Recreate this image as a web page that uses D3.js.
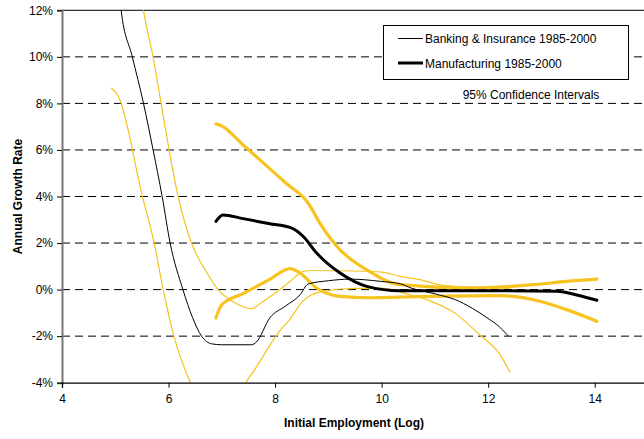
<!DOCTYPE html>
<html>
<head>
<meta charset="utf-8">
<script src="https://cdn.jsdelivr.net/npm/d3@7/dist/d3.min.js"></script>
<style>
  html, body { margin: 0; padding: 0; background: #fff; }
  svg { display: block; font-family: "Liberation Sans", Arial, sans-serif; }
</style>
</head>
<body>
<svg id="chart" width="644" height="439"></svg>
<script>
// ---- Data (x = log initial employment, y = annual growth rate in %) ----
const xTicks = [4, 6, 8, 10, 12, 14];
const yTicks = [-4, -2, 0, 2, 4, 6, 8, 10, 12];

const bankingX = [5.08, 5.11, 5.32, 5.53, 5.71, 5.88, 6.03, 6.27, 6.45, 6.62, 6.81, 7.0, 7.56, 7.65, 7.9, 8.2, 8.47, 8.62, 9.0, 9.41, 10.0, 10.35, 10.55, 11.03, 11.38, 11.7, 12.03, 12.16, 12.38];
const bankingY = [12.6, 12.0, 10.0, 8.0, 6.0, 4.0, 2.0, 0.0, -1.2, -2.0, -2.33, -2.37, -2.37, -2.25, -1.22, -0.7, -0.22, 0.24, 0.38, 0.45, 0.35, 0.25, 0.07, -0.2, -0.43, -0.8, -1.29, -1.5, -2.0];

const bankingUpperX = [5.5, 5.53, 5.71, 5.86, 6.01, 6.18, 6.43, 6.7, 6.93, 7.2, 7.56, 7.72, 8.0, 8.28, 8.53, 8.7, 9.5, 10.0, 10.35, 10.72, 11.1, 11.6, 12.0, 12.4];
const bankingUpperY = [12.5, 12.0, 10.0, 8.0, 6.0, 4.0, 2.0, 0.8, 0.0, -0.5, -0.82, -0.6, -0.15, 0.35, 0.78, 0.82, 0.8, 0.75, 0.57, 0.43, 0.2, 0.1, 0.08, 0.05];

const bankingLowerX = [4.93, 5.06, 5.51, 5.73, 5.9, 6.1, 6.41, 6.7, 7.0, 7.3, 7.45, 7.6, 8.06, 8.3, 8.5, 8.85, 9.5, 10.0, 10.5, 10.87, 11.37, 11.84, 12.2, 12.41];
const bankingLowerY = [8.65, 8.3, 4.0, 2.0, 0.0, -2.0, -4.0, -5.3, -5.8, -4.9, -4.0, -3.5, -1.86, -1.2, -0.55, -0.1, 0.05, 0.05, -0.2, -0.45, -1.0, -1.94, -2.72, -3.55];

const manufX = [6.89, 7.02, 7.4, 7.9, 8.28, 8.53, 8.78, 9.22, 9.72, 10.35, 11.0, 12.0, 13.28, 13.7, 14.04];
const manufY = [2.93, 3.21, 3.05, 2.83, 2.67, 2.28, 1.57, 0.71, 0.14, -0.05, -0.05, -0.05, -0.07, -0.25, -0.46];

const manufUpperX = [6.89, 7.0, 7.4, 7.8, 8.2, 8.62, 8.84, 9.22, 9.72, 10.35, 11.6, 12.85, 13.47, 14.04];
const manufUpperY = [7.12, 7.03, 6.21, 5.4, 4.58, 3.72, 2.86, 1.71, 0.85, 0.21, 0.07, 0.21, 0.35, 0.45];

const manufLowerX = [6.89, 7.0, 7.4, 7.9, 8.28, 8.47, 8.78, 9.22, 9.78, 10.35, 12.22, 12.97, 13.47, 14.04];
const manufLowerY = [-1.22, -0.65, -0.17, 0.44, 0.9, 0.71, 0.07, -0.29, -0.35, -0.32, -0.26, -0.5, -0.86, -1.36];

const legendLabels = ["Banking & Insurance 1985-2000", "Manufacturing 1985-2000"];
const ciLabel = "95% Confidence Intervals";
const xTitle = "Initial Employment (Log)";
const yTitle = "Annual Growth Rate";

// ---- Layout ----
const svg = d3.select("#chart");
const pLeft = 62, pRight = 648, pTop = 10.3, pBottom = 382.7;
const x = d3.scaleLinear().domain([4, 15]).range([pLeft, pRight]);
const y = d3.scaleLinear().domain([-4, 12]).range([pBottom, pTop]);
const YELLOW = "#F6C320";

// clip
svg.append("defs").append("clipPath").attr("id", "plotclip")
  .append("rect").attr("x", pLeft).attr("y", pTop).attr("width", pRight - pLeft).attr("height", pBottom - pTop);

// gridlines (dashed)
svg.append("g").selectAll("line")
  .data(yTicks.filter(d => d > -4 && d < 12))
  .join("line")
  .attr("x1", pLeft).attr("x2", pRight)
  .attr("y1", d => y(d)).attr("y2", d => y(d))
  .attr("stroke", "#000").attr("stroke-width", 1)
  .attr("stroke-dasharray", "8,5");

// top border
svg.append("line").attr("x1", pLeft).attr("x2", pRight)
  .attr("y1", y(12)).attr("y2", y(12)).attr("stroke", "#000").attr("stroke-width", 1);

// lines
const line = d3.line().x(d => x(d[0])).y(d => y(d[1])).curve(d3.curveMonotoneX);
const zip = (a, b) => a.map((v, i) => [v, b[i]]);
const plot = svg.append("g").attr("clip-path", "url(#plotclip)");
const series = [
  { xs: bankingUpperX, ys: bankingUpperY, c: YELLOW, w: 1.2 },
  { xs: bankingLowerX, ys: bankingLowerY, c: YELLOW, w: 1.2 },
  { xs: manufUpperX, ys: manufUpperY, c: YELLOW, w: 3.2 },
  { xs: manufLowerX, ys: manufLowerY, c: YELLOW, w: 3.2 },
  { xs: bankingX, ys: bankingY, c: "#000", w: 1 },
  { xs: manufX, ys: manufY, c: "#000", w: 3 }
];
plot.selectAll("path.s").data(series).join("path")
  .attr("class", "s")
  .attr("d", d => line(zip(d.xs, d.ys)))
  .attr("fill", "none").attr("stroke", d => d.c).attr("stroke-width", d => d.w)
  .attr("stroke-linejoin", "round").attr("stroke-linecap", "round");

// axes
const yAxis = d3.axisLeft(y).tickValues(yTicks).tickFormat(d => d + "%").tickSize(5).tickPadding(4);
const gy = svg.append("g").attr("transform", `translate(${pLeft},0)`).call(yAxis);
gy.select(".domain").attr("stroke", "#777").attr("stroke-width", 2);
gy.selectAll("text").attr("font-size", 12).attr("fill", "#000").attr("font-family", "Liberation Sans, Arial, sans-serif");

const xAxis = d3.axisBottom(x).tickValues(xTicks).tickFormat(d3.format("d")).tickSize(5).tickPadding(7);
const gx = svg.append("g").attr("transform", `translate(0,${pBottom})`).call(xAxis);
gx.select(".domain").attr("stroke", "#000").attr("stroke-width", 1.3);
gx.selectAll("text").attr("font-size", 12).attr("fill", "#000").attr("font-family", "Liberation Sans, Arial, sans-serif");

// axis titles
svg.append("text").attr("x", 354).attr("y", 427).attr("text-anchor", "middle")
  .attr("font-size", 12).attr("font-weight", "bold").text(xTitle);
svg.append("text").attr("transform", `translate(22,${(pTop + pBottom) / 2}) rotate(-90)`)
  .attr("text-anchor", "middle").attr("font-size", 12).attr("font-weight", "bold").text(yTitle);

// legend
const lg = svg.append("g");
lg.append("rect").attr("x", 383.5).attr("y", 25.5).attr("width", 245).attr("height", 54)
  .attr("fill", "#fff").attr("stroke", "#000").attr("stroke-width", 1);
const lw = [1, 3];
legendLabels.forEach((t, i) => {
  const cy = 38.5 + i * 24.5;
  lg.append("line").attr("x1", 398).attr("x2", 423).attr("y1", cy).attr("y2", cy)
    .attr("stroke", "#000").attr("stroke-width", lw[i]);
  lg.append("text").attr("x", 425).attr("y", cy + 4.5).attr("font-size", 12).text(t);
});
svg.append("text").attr("x", 531).attr("y", 98.5).attr("text-anchor", "middle")
  .attr("font-size", 12).text(ciLabel);
</script>
</body>
</html>
